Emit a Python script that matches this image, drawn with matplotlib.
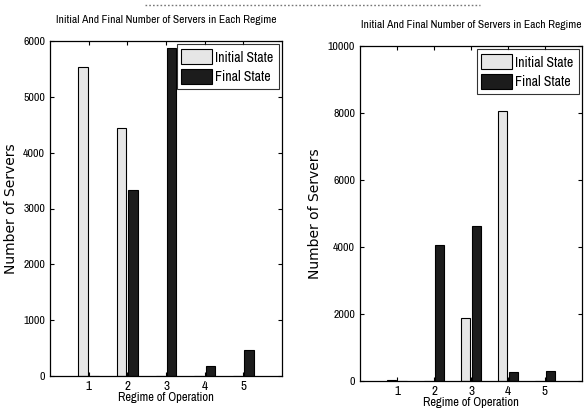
import numpy as np
import matplotlib.pyplot as plt
from matplotlib import font_manager
from matplotlib.font_manager import FontProperties
from matplotlib.lines import Line2D

# Regimes and server counts
regimes = [1, 2, 3, 4, 5]
left_initial = [5530, 4440, 0, 0, 0]
left_final = [0, 3330, 5880, 180, 470]
right_initial = [20, 0, 1890, 8050, 0]
right_final = [0, 4070, 4640, 270, 300]

title = 'Initial And Final Number of Servers in Each Regime'

# look for a narrow / condensed face, the scan uses Arial Narrow-like text
narrow_path = None
for f in font_manager.fontManager.ttflist:
    fn = f.fname.lower()
    if ('narrow' in fn or 'condensed' in fn) and 'bold' not in fn and 'italic' not in fn \
            and 'oblique' not in fn and f.style == 'normal' and f.weight in (400, 'normal', 'regular'):
        narrow_path = f.fname
        if 'narrow' in fn:
            break

def fp(size):
    if narrow_path:
        return FontProperties(fname=narrow_path, size=size)
    return FontProperties(family='DejaVu Sans', size=size * 0.8)

fig = plt.figure(figsize=(5.87, 4.18), dpi=100)
ax1 = fig.add_axes([50 / 587, 1 - 376 / 418, 232 / 587, 335 / 418])
ax2 = fig.add_axes([360 / 587, 1 - 381 / 418, 222 / 587, 335 / 418])

# dotted scan line at the top of the page
fig.add_artist(Line2D([145 / 587, 480 / 587], [1 - 5 / 418, 1 - 5 / 418], color='#777777',
                      linestyle=(0, (1.2, 1.5)), linewidth=1.0))

def draw(ax, initial, final, ymax, yticks):
    x = np.array(regimes)
    ax.bar(x - 0.15, initial, width=0.24, color='#e6e6e6', edgecolor='black', linewidth=0.8, label='Initial State')
    ax.bar(x + 0.15, final, width=0.24, color='#1c1c1c', edgecolor='black', linewidth=0.8, label='Final State')
    ax.set_xlim(0, 6)
    ax.set_ylim(0, ymax)
    ax.set_xticks(regimes)
    ax.set_yticks(yticks)
    ax.tick_params(direction='in', top=True, right=True, length=3)
    for lab in ax.get_xticklabels():
        lab.set_fontproperties(fp(9.5))
    for lab in ax.get_yticklabels():
        lab.set_fontproperties(fp(8.5))
    ax.set_title(title, fontproperties=fp(8.3), pad=13)
    ax.set_xlabel('Regime of Operation', fontproperties=fp(9), labelpad=0)
    ax.set_ylabel('Number of Servers', fontsize=10, family='DejaVu Sans')
    leg = ax.legend(loc='upper right', prop=fp(10), frameon=True, fancybox=False,
                    edgecolor='black', borderpad=0.35, handlelength=2.2, handleheight=1.3,
                    handletextpad=0.25, labelspacing=0.3, borderaxespad=0.25)
    leg.get_frame().set_linewidth(0.8)
    for s in ax.spines.values():
        s.set_linewidth(0.9)

draw(ax1, left_initial, left_final, 6000, np.arange(0, 6001, 1000))
draw(ax2, right_initial, right_final, 10000, np.arange(0, 10001, 2000))

fig.savefig('out.png', dpi=100)
